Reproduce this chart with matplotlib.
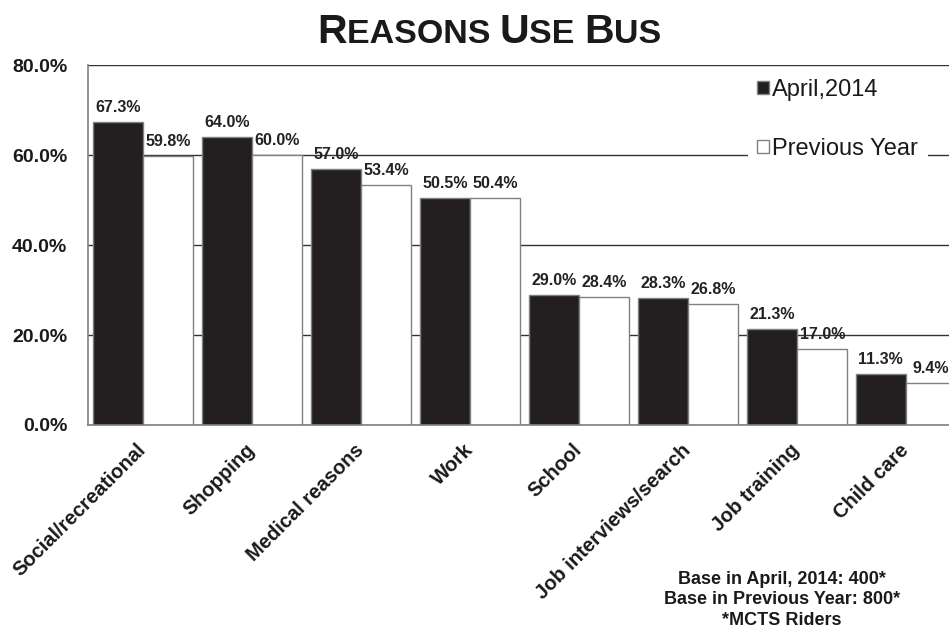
import matplotlib
matplotlib.use('Agg')
import matplotlib.pyplot as plt
import numpy as np
from matplotlib.ticker import FuncFormatter

# reasons riders gave for using the bus (% of riders)
categories = ['Social/recreational', 'Shopping', 'Medical reasons', 'Work',
              'School', 'Job interviews/search', 'Job training', 'Child care']
april_2014 = [67.3, 64.0, 57.0, 50.5, 29.0, 28.3, 21.3, 11.3]
previous_year = [59.8, 60.0, 53.4, 50.4, 28.4, 26.8, 17.0, 9.4]
y_ticks = [0, 20, 40, 60, 80]
footnote = ['Base in April, 2014: 400*', 'Base in Previous Year: 800*', '*MCTS Riders']

SANS = ['Liberation Sans', 'Arial', 'DejaVu Sans']
BLACK = '#231f20'
EDGE = '#808080'
INK = '#1a1a1a'

plt.rcParams['font.family'] = SANS

fig = plt.figure(figsize=(9.49, 6.30), dpi=100)
# right edge runs slightly past the figure, so the last bar is cut off
ax = fig.add_axes([0.0927, 0.3254, 0.920, 0.5714])

x = np.arange(len(categories))
w = 0.463
b1 = ax.bar(x - w / 2, april_2014, w, color=BLACK, edgecolor=EDGE, linewidth=1,
            label='April,2014', zorder=2)
b2 = ax.bar(x + w / 2, previous_year, w, color='white', edgecolor=EDGE, linewidth=1,
            label='Previous Year', zorder=2)

for bars, vals in ((b1, april_2014), (b2, previous_year)):
    for rect, v in zip(bars, vals):
        ax.annotate(f'{v:.1f}%', (rect.get_x() + rect.get_width() / 2, v),
                    xytext=(0, 5), textcoords='offset points', ha='center', va='bottom',
                    fontsize=11.5, fontweight='bold', color='#222222', zorder=4)

ax.set_xlim(-0.505, len(categories) - 0.495)
ax.set_ylim(0, 80)
ax.set_yticks(y_ticks)
ax.yaxis.set_major_formatter(FuncFormatter(lambda v, _: f'{v:.1f}%'))
ax.set_axisbelow(True)
ax.yaxis.grid(True, color='#333333', linewidth=1)
ax.tick_params(axis='y', length=0, pad=15, labelsize=14, labelcolor=INK)
for lbl in ax.get_yticklabels():
    lbl.set_fontweight('bold')

ax.set_xticks(x)
ax.set_xticklabels(categories, rotation=45, ha='right', va='center',
                   rotation_mode='anchor', fontsize=14.5, fontweight='bold', color=INK)
ax.tick_params(axis='x', length=0, pad=16)

for side in ('top', 'right'):
    ax.spines[side].set_visible(False)
for side in ('left', 'bottom'):
    ax.spines[side].set_color(EDGE)
    ax.spines[side].set_linewidth(1.2)

leg = ax.legend(loc='upper left', bbox_to_anchor=(0.742, 1.02), fontsize=17,
                frameon=True, fancybox=False, framealpha=1, facecolor='white',
                edgecolor='none', handlelength=0.5, handleheight=0.5,
                handletextpad=0.15, labelspacing=1.55, borderpad=0.4)
leg.set_zorder(3)
for t in leg.get_texts():
    t.set_color(INK)

# small-caps title built from pieces sharing one baseline
pieces = [('R', 29.5), ('EASONS ', 24.5), ('U', 29.5), ('SE ', 24.5), ('B', 29.5), ('US', 24.5)]
base_y = 1 - 43 / 630
prev = fig.text(317 / 949, base_y, pieces[0][0], fontsize=pieces[0][1],
                fontweight='bold', va='baseline', color=INK)
for txt, size in pieces[1:]:
    prev = ax.annotate(txt, xy=(1, base_y), xycoords=(prev, 'figure fraction'),
                       fontsize=size, fontweight='bold', va='baseline', ha='left',
                       color=INK, annotation_clip=False)

fig.text(782 / 949, 1 - 600 / 630, '\n'.join(footnote), ha='center', va='center',
         fontsize=13, fontweight='bold', linespacing=1.25, color=INK)

fig.savefig('out.png', dpi=100)
